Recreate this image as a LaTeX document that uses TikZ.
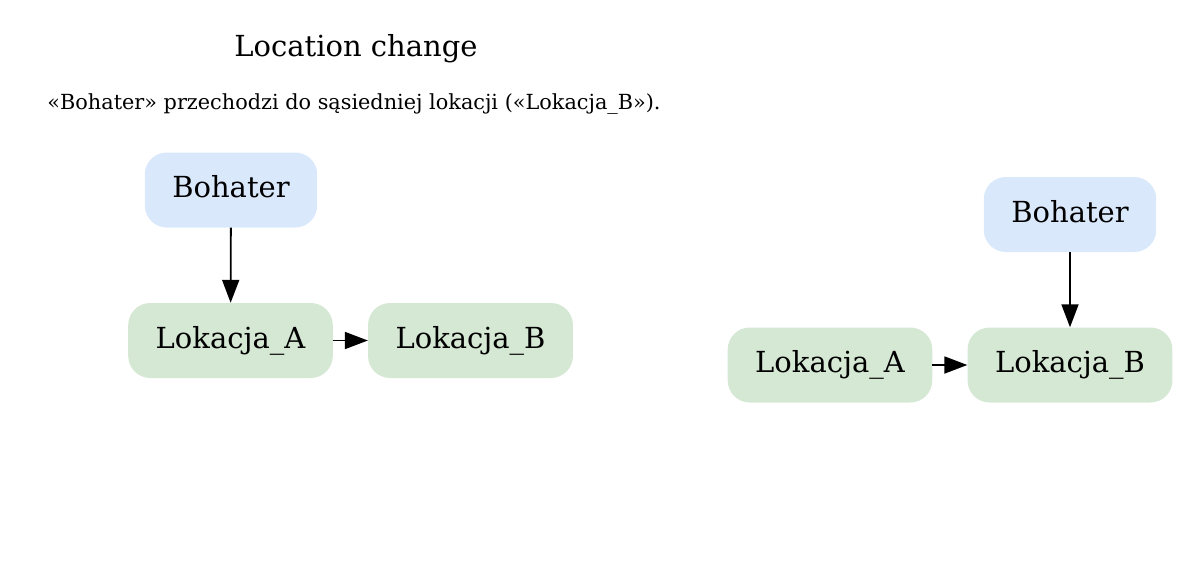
\documentclass[tikz,border=0pt]{standalone}
\usepackage{fontspec}
\setmainfont{DejaVu Serif}
\usepackage{xcolor}
\usetikzlibrary{positioning,arrows.meta}
\definecolor{heroblue}{HTML}{DAE8FC}
\definecolor{locgreen}{HTML}{D5E8D4}
\tikzset{hero/.style={rounded corners=22pt,fill=heroblue,minimum height=75pt,inner xsep=27.5pt,text height=21pt,text depth=6pt,font=\fontsize{29}{31}\selectfont},
  loc/.style={hero,fill=locgreen}}

\begin{document}
\begin{tikzpicture}[x=1pt,y=-1pt,>={Triangle[length=23pt,width=17pt]}]
    \useasboundingbox (0,0) rectangle (1199,581);
    \node[font=\fontsize{29}{31}\selectfont] (t) at (356,49) {Location change};
    \node[font=\fontsize{20.8}{22}\selectfont] (s) at (354,104) {«Bohater» przechodzi do sąsiedniej lokacji («Lokacja\_B»).};

    \node[hero] (a) at (231,190) {Bohater};
    \node[loc] (b) at (230.5,340.5) {Lokacja\_A};
    \node[loc] (c) at (470.5,340.5) {Lokacja\_B};
    \node[hero] (d) at (1070,214.5) {Bohater};
    \node[loc] (e) at (830,365) {Lokacja\_A};
    \node[loc] (f) at (1070,365) {Lokacja\_B};

    \draw [->,line width=1.8pt] (a) to (b);
    \draw [->,line width=1.8pt] (b) to (c);
    \draw [->,line width=1.8pt] (d) to (f);
    \draw [->,line width=1.8pt] (e) to (f);
\end{tikzpicture}
\end{document}
